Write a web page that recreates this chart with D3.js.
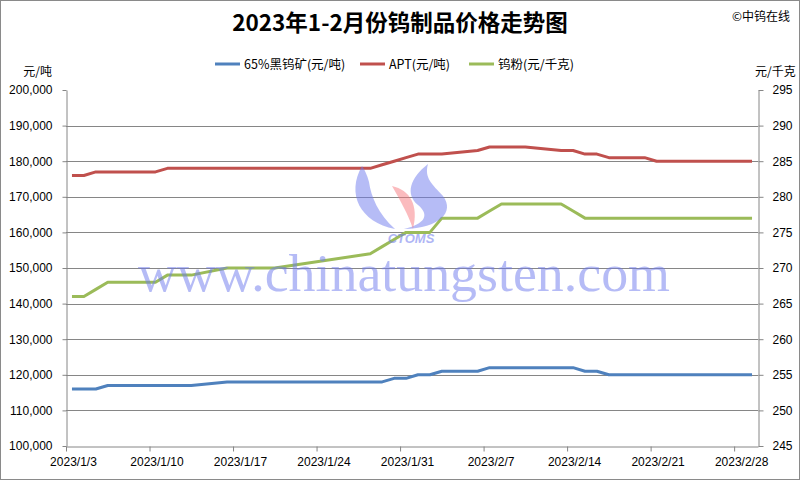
<!DOCTYPE html>
<html>
<head>
<meta charset="utf-8">
<script src="https://cdn.jsdelivr.net/npm/d3@7"></script>
<style>
  html, body { margin: 0; padding: 0; background: #fff; }
  svg { display: block; }
</style>
</head>
<body>
<svg id="chart" width="800" height="480"></svg>
<script>
// ---------------- data ----------------
const dates = [
  "2023/1/3","2023/1/4","2023/1/5","2023/1/6","2023/1/9","2023/1/10","2023/1/11","2023/1/12","2023/1/13",
  "2023/1/16","2023/1/17","2023/1/18","2023/1/19","2023/1/20","2023/1/28","2023/1/29","2023/1/30","2023/1/31",
  "2023/2/1","2023/2/2","2023/2/3","2023/2/6","2023/2/7","2023/2/8","2023/2/9","2023/2/10","2023/2/13",
  "2023/2/14","2023/2/15","2023/2/16","2023/2/17","2023/2/20","2023/2/21","2023/2/22","2023/2/23","2023/2/24",
  "2023/2/27","2023/2/28","2023/3/1"
];
const ore = [
  116000,116000,116000,117000,117000,117000,117000,117000,117000,
  118000,118000,118000,118000,118000,118000,118000,119000,119000,
  120000,120000,121000,121000,122000,122000,122000,122000,122000,
  122000,121000,121000,120000,120000,120000,120000,120000,120000,
  120000,120000,120000
];
const apt = [
  176000,176000,177000,177000,177000,177000,178000,178000,178000,
  178000,178000,178000,178000,178000,178000,179000,180000,181000,
  182000,182000,182000,183000,184000,184000,184000,184000,183000,
  183000,182000,182000,181000,181000,180000,180000,180000,180000,
  180000,180000,180000
];
const powder = [
  266,266,267,268,268,268,269,269,269,
  270,270,270,270,270,272,273,274,275,
  275,275,277,277,278,279,279,279,279,
  278,277,277,277,277,277,277,277,277,
  277,277,277
];
const seriesNames = ["65%黑钨矿(元/吨)", "APT(元/吨)", "钨粉(元/千克)"];
const xTickLabels = ["2023/1/3","2023/1/10","2023/1/17","2023/1/24","2023/1/31","2023/2/7","2023/2/14","2023/2/21","2023/2/28"];
const leftTicks = [100000,110000,120000,130000,140000,150000,160000,170000,180000,190000,200000];
const rightTicks = [245,250,255,260,265,270,275,280,285,290,295];
const titleText = "2023年1-2月份钨制品价格走势图";
const copyrightText = "©中钨在线";
const leftUnit = "元/吨";
const rightUnit = "元/千克";
const watermarkText = "www.chinatungsten.com";

// ---------------- layout ----------------
const svg = d3.select("#chart");
const L = 66, R = 758, T = 90, B = 446;
const colors = ["#4F81BD", "#C0504D", "#9BBB59"];
const axisColor = "#868686";
const fontLatin = "'Liberation Sans', Arial, 'Noto Sans CJK SC', sans-serif";
const fontCJK = "'Noto Sans CJK SC', 'Liberation Sans', sans-serif";

const parse = d3.timeParse("%Y/%m/%d");
const dayMs = 864e5;
const d0 = parse(dates[0]), d1 = parse(dates[dates.length - 1]);
const x = d3.scaleTime()
  .domain([new Date(+d0 - dayMs / 2), new Date(+d1 + dayMs / 2)])
  .range([L, R]);
const half = (x(new Date(+d0 + dayMs)) - x(d0)) / 2;
const yL = d3.scaleLinear().domain([100000, 200000]).range([B, T]);
const yR = d3.scaleLinear().domain([245, 295]).range([B, T]);

// background + border
svg.append("rect").attr("x", 0.5).attr("y", 0.5).attr("width", 799).attr("height", 479)
  .attr("fill", "#fff").attr("stroke", "#8a8a8a").attr("stroke-width", 1);

// gridlines
svg.append("g").selectAll("line")
  .data(leftTicks.filter(v => v > 100000 && v < 200000))
  .join("line")
  .attr("x1", L).attr("x2", R)
  .attr("y1", d => Math.round(yL(d)) + 0.5).attr("y2", d => Math.round(yL(d)) + 0.5)
  .attr("stroke", axisColor).attr("stroke-width", 1);

// axes
function styleAxis(g) {
  g.selectAll("path.domain").attr("stroke", axisColor);
  g.selectAll(".tick line").attr("stroke", axisColor);
  g.selectAll(".tick text").attr("fill", "#000").attr("font-family", fontLatin).attr("font-size", 12);
}
const gL = svg.append("g").attr("transform", `translate(${L + 0.5},0)`)
  .call(d3.axisLeft(yL).tickValues(leftTicks).tickFormat(d3.format(",")).tickSize(4).tickSizeOuter(0).tickPadding(10));
styleAxis(gL);
const gR = svg.append("g").attr("transform", `translate(${R + 0.5},0)`)
  .call(d3.axisRight(yR).tickValues(rightTicks).tickSize(5).tickSizeOuter(0).tickPadding(9));
styleAxis(gR);
const gX = svg.append("g").attr("transform", `translate(0,${B + 0.5})`)
  .call(d3.axisBottom(x).tickValues(xTickLabels.map(parse)).tickFormat((d, i) => xTickLabels[i])
    .tickSize(5).tickSizeOuter(0).tickPadding(6));
styleAxis(gX);
gX.selectAll(".tick line").attr("transform", `translate(${-half},0)`);
gX.selectAll(".tick text").attr("dx", 1);

// lines
const pts = dates.map((d, i) => ({ date: parse(d), ore: ore[i], apt: apt[i], powder: powder[i] }));
const lineL = key => d3.line().x(d => x(d.date)).y(d => yL(d[key]));
const lineR = key => d3.line().x(d => x(d.date)).y(d => yR(d[key]));
const paths = [lineL("ore"), lineL("apt"), lineR("powder")];
paths.forEach((gen, i) => {
  svg.append("path").datum(pts).attr("d", gen)
    .attr("fill", "none").attr("stroke", colors[i]).attr("stroke-width", 3)
    .attr("stroke-linejoin", "round").attr("stroke-linecap", "butt");
});

// watermark logo (approximate)
const wm = svg.append("g").attr("pointer-events", "none");
wm.append("path")
  .attr("d", "M362,166 C346,194 360,222 395,229 C378,214 371,196 369,182 C367,175 365,170 362,166 Z")
  .attr("fill", "rgb(110,122,238)").attr("opacity", 0.5);
wm.append("path")
  .attr("d", "M428,164 C410,178 405,194 418,205 C430,215 425,224 404,229 C440,228 455,212 443,196 C432,184 424,178 428,164 Z")
  .attr("fill", "rgb(110,122,238)").attr("opacity", 0.5);
wm.append("path")
  .attr("d", "M392,186 C410,190 419,205 413,229 C408,214 401,202 392,186 Z")
  .attr("fill", "rgb(248,120,125)").attr("opacity", 0.5);
wm.append("text").attr("x", 411).attr("y", 243).attr("text-anchor", "middle")
  .attr("font-family", fontLatin).attr("font-size", 13).attr("font-weight", "bold").attr("font-style", "italic")
  .attr("fill", "rgb(110,122,238)").attr("opacity", 0.55).text("CTOMS");
wm.append("text").attr("x", 138).attr("y", 291)
  .attr("textLength", 532).attr("lengthAdjust", "spacingAndGlyphs")
  .attr("font-family", "'Liberation Serif', 'DejaVu Serif', serif").attr("font-size", 52)
  .attr("fill", "rgb(110,122,238)").attr("opacity", 0.5).text(watermarkText);

// title & texts
svg.append("text").attr("x", 400).attr("y", 31).attr("text-anchor", "middle")
  .attr("font-family", fontCJK).attr("font-size", 22.5).attr("font-weight", "bold").attr("fill", "#000")
  .text(titleText);
svg.append("text").attr("x", 790).attr("y", 21).attr("text-anchor", "end")
  .attr("font-family", fontCJK).attr("font-size", 12).attr("fill", "#000").text(copyrightText);
svg.append("text").attr("x", 52).attr("y", 76).attr("text-anchor", "end")
  .attr("font-family", fontCJK).attr("font-size", 12).attr("fill", "#000").text(leftUnit);
svg.append("text").attr("x", 755).attr("y", 76).attr("text-anchor", "start")
  .attr("font-family", fontCJK).attr("font-size", 12).attr("fill", "#000").text(rightUnit);

// legend
const legendX = [215, 360, 469];
const leg = svg.append("g");
seriesNames.forEach((name, i) => {
  leg.append("line").attr("x1", legendX[i]).attr("x2", legendX[i] + 25).attr("y1", 64).attr("y2", 64)
    .attr("stroke", colors[i]).attr("stroke-width", 3);
  leg.append("text").attr("x", legendX[i] + 29).attr("y", 68.5)
    .attr("font-family", fontCJK).attr("font-size", 12.5).attr("fill", "#000").text(name);
});
</script>
</body>
</html>
